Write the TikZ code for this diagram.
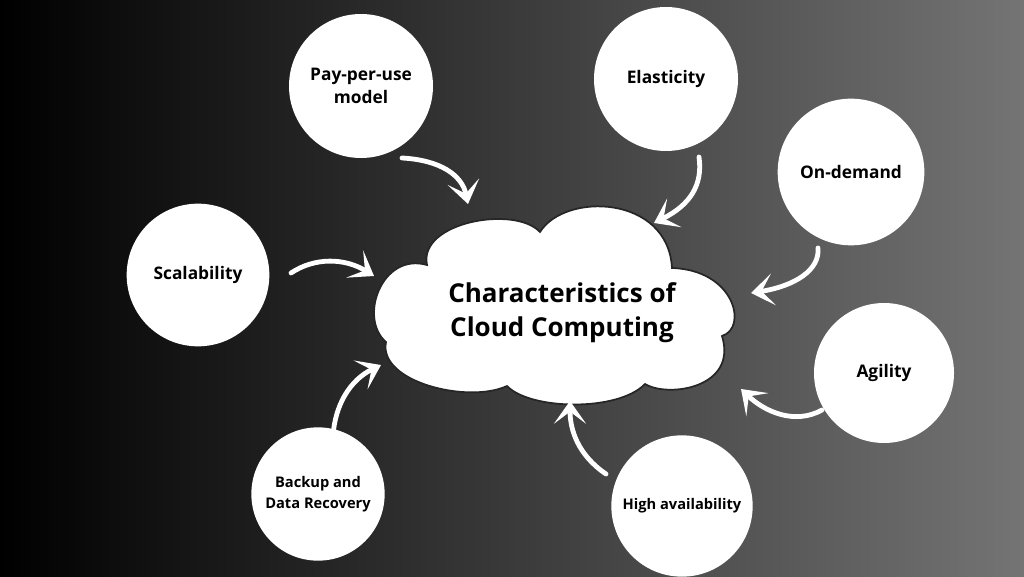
\documentclass[tikz,border=0pt]{standalone}
\usepackage{fontspec}
\setmainfont{Open Sans}
\usetikzlibrary{arrows.meta, positioning}
\definecolor{bgright}{RGB}{116,116,116}

\begin{document}
\begin{tikzpicture}[
            x=0.75pt, y=-0.75pt,
            feature/.style={
                circle,
                fill=white,
                minimum size=108pt,
                inner sep=0pt,
                align=center,
                font=\bfseries\fontsize{13}{17}\selectfont
            },
            smallfeature/.style={
                feature,
                font=\bfseries\fontsize{11}{15.5}\selectfont
            },
            cloudtext/.style={
                align=center,
                font=\bfseries\fontsize{19.5}{25.5}\selectfont
            },
            arrow/.style={
                -{Stealth[length=17pt, width=24pt, inset=9pt]},
                draw=white,
                line width=3.6pt,
                line cap=round
            }
        ]

        % Background
        \shade[left color=black, right color=bgright] (0,0) rectangle (1024,576);

        % Cloud
        \filldraw[fill=white, draw=black!85, line width=1.3pt]
            (427,265) .. controls (418,222) and (515,205) .. (540,232)
            .. controls (565,192) and (668,195) .. (672,268)
            .. controls (735,270) and (748,328) .. (722,336)
            .. controls (738,388) and (668,398) .. (645,384)
            .. controls (618,412) and (530,410) .. (507,386)
            .. controls (468,404) and (378,382) .. (386,342)
            .. controls (358,318) and (382,252) .. cycle;
        \node (cloud) [cloudtext] at (562,313) {Characteristics of\\Cloud Computing};

        % Features
        \node (pay) [feature] at (361,86) {Pay-per-use\\model};
        \node (elastic) [feature] at (666,79) {Elasticity};
        \node (demand) [feature, minimum size=110pt] at (851,172) {On-demand};
        \node (scale) [feature, minimum size=107pt] at (198,275) {Scalability};
        \node (agile) [feature, minimum size=105pt] at (884,373) {Agility};
        \node (backup) [smallfeature, minimum size=100pt] at (318,494) {Backup and\\Data Recovery};
        \node (avail) [smallfeature, minimum size=106pt] at (682,506) {High availability};

        % Arrow ends
        \coordinate (pay-s) at (402,158);
        \coordinate (pay-e) at (468,204);
        \coordinate (elastic-s) at (699,157);
        \coordinate (elastic-e) at (654,223);
        \coordinate (demand-s) at (818,248);
        \coordinate (demand-e) at (751,293);
        \coordinate (agile-s) at (822,410);
        \coordinate (agile-e) at (741,389);
        \coordinate (avail-s) at (606,474);
        \coordinate (avail-e) at (570,401);
        \coordinate (backup-s) at (333,436);
        \coordinate (backup-e) at (381,365);
        \coordinate (scale-s) at (291,273);
        \coordinate (scale-e) at (374,276);

        % Arrows from Features to Cloud
        \draw[arrow] (pay-s) .. controls (440,160) and (462,175) .. (pay-e);
        \draw[arrow] (elastic-s) .. controls (703,185) and (690,205) .. (elastic-e);
        \draw[arrow] (demand-s) .. controls (820,270) and (795,286) .. (demand-e);
        \draw[arrow] (agile-s) .. controls (795,425) and (765,412) .. (agile-e);
        \draw[arrow] (avail-s) .. controls (578,455) and (570,430) .. (avail-e);
        \draw[arrow] (backup-s) .. controls (335,405) and (350,380) .. (backup-e);
        \draw[arrow] (scale-s) .. controls (315,257) and (345,258) .. (scale-e);

\end{tikzpicture}
\end{document}
